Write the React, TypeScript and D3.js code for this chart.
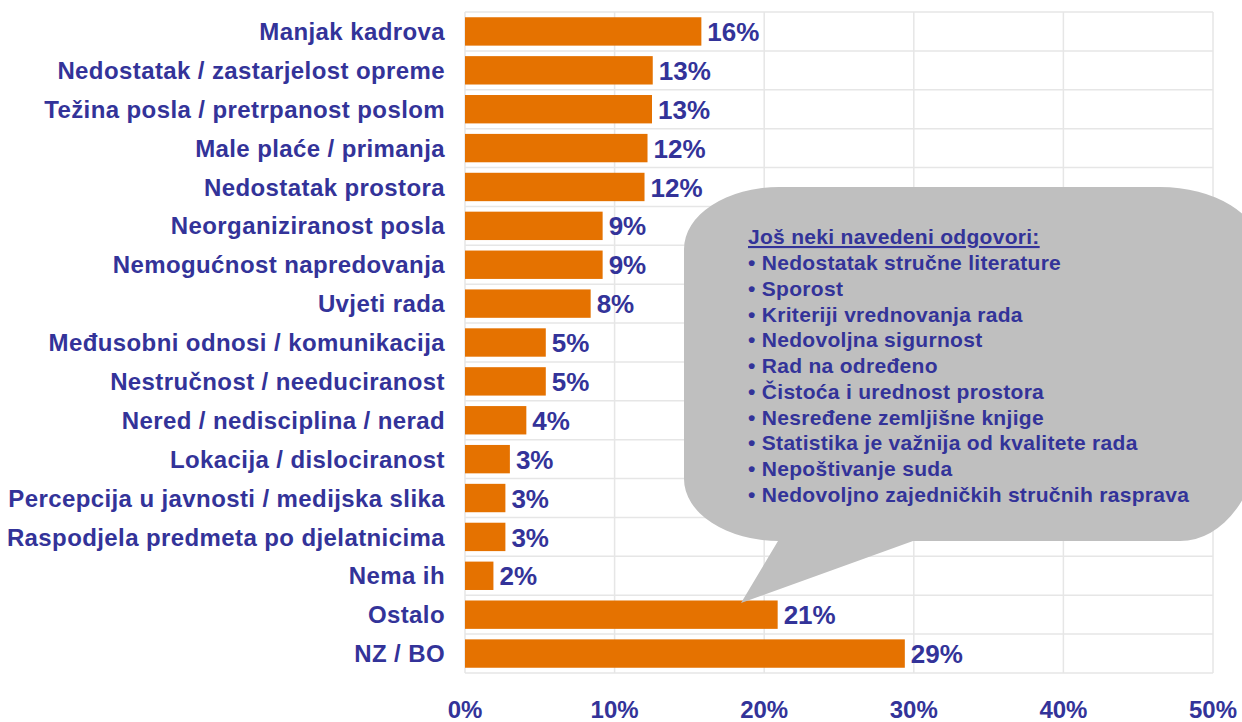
import * as d3 from 'd3';
import React from 'react';

const categories = [
	"Manjak kadrova",
	"Nedostatak / zastarjelost opreme",
	"Težina posla / pretrpanost poslom",
	"Male plaće / primanja",
	"Nedostatak prostora",
	"Neorganiziranost posla",
	"Nemogućnost napredovanja",
	"Uvjeti rada ",
	"Međusobni odnosi / komunikacija",
	"Nestručnost / needuciranost",
	"Nered / nedisciplina / nerad",
	"Lokacija / dislociranost",
	"Percepcija u javnosti / medijska slika",
	"Raspodjela predmeta po djelatnicima",
	"Nema ih",
	"Ostalo",
	"NZ / BO",
];

// shares
const values = [0.158, 0.1255, 0.125, 0.122, 0.12, 0.092, 0.092, 0.084, 0.054, 0.054, 0.041, 0.03, 0.027, 0.027, 0.019, 0.209, 0.294];

const xTicks = [0, 0.1, 0.2, 0.3, 0.4, 0.5];

const calloutTitle = "Još neki navedeni odgovori:";
const calloutItems = [
	"Nedostatak stručne literature",
	"Sporost",
	"Kriteriji vrednovanja rada",
	"Nedovoljna sigurnost",
	"Rad na određeno",
	"Čistoća i urednost prostora",
	"Nesređene zemljišne knjige",
	"Statistika je važnija od kvalitete rada",
	"Nepoštivanje suda",
	"Nedovoljno zajedničkih stručnih rasprava",
];

const W = 1242;
const H = 722;
const FONT = "'Liberation Sans', Arial, sans-serif";
const TEXT = "#333399";
const BAR = "#E57200";
const GRID = "#E6E6E6";

const margin = { top: 12, right: 29, bottom: 49, left: 465 };

export default function App() {
	const x = d3.scaleLinear()
		.domain([0, 0.5])
		.range([margin.left, W - margin.right]);

	const y = d3.scaleBand<string>()
		.domain(categories)
		.range([margin.top, H - margin.bottom])
		.paddingInner(0.27)
		.paddingOuter(0.135);

	const step = y.step();
	const rowLines = d3.range(categories.length + 1).map(i => margin.top + i * step);
	const fmt = d3.format(".0%");

	// speech bubble with a tail pointing at "Ostalo"
	const bx0 = 684, by0 = 187, bx1 = 1260, by1 = 541;
	const rx = 95, ry = 62;      // left corners, top-right
	const brx = 80, bry = 110;   // bottom-right corner
	const bubbleD = [
		`M${bx0 + rx},${by0}`,
		`L${bx1 - 100},${by0}`,
		`A100,${ry} 0 0 1 ${bx1},${by0 + ry}`,
		`L${bx1},${by1 - bry}`,
		`A${brx},${bry} 0 0 1 ${bx1 - brx},${by1}`,
		`L913,${by1}`,
		`L741,603`,
		`L778,${by1}`,
		`L${bx0 + rx},${by1}`,
		`A${rx},${ry} 0 0 1 ${bx0},${by1 - ry}`,
		`L${bx0},${by0 + ry}`,
		`A${rx},${ry} 0 0 1 ${bx0 + rx},${by0}`,
		"Z",
	].join(" ");

	return (
		<svg width={W} height={H} style={{ position: "absolute", left: 0, top: 0, background: "#fff" }}>
			<g>
				{xTicks.map(t => (
					<line key={"v" + t} x1={x(t)} x2={x(t)} y1={margin.top} y2={H - margin.bottom}
						stroke={GRID} strokeWidth={1.5} />
				))}
				{rowLines.map((yy, i) => (
					<line key={"h" + i} x1={x(0)} x2={x(0.5)} y1={yy} y2={yy}
						stroke={GRID} strokeWidth={1.5} />
				))}
			</g>
			<g>
				{categories.map((c, i) => (
					<g key={c}>
						<rect x={x(0)} y={y(c)} width={x(values[i]) - x(0)} height={y.bandwidth()} fill={BAR} />
						<text x={445} y={(y(c) as number) + y.bandwidth() / 2} dy="0.36em" textAnchor="end"
							fontFamily={FONT} fontWeight="bold" fontSize={24} letterSpacing={0.4} fill={TEXT}>{c}</text>
						<text x={x(values[i]) + 6} y={(y(c) as number) + y.bandwidth() / 2} dy="0.37em"
							fontFamily={FONT} fontWeight="bold" fontSize={26} fill={TEXT}>{fmt(Math.round(values[i] * 100) / 100)}</text>
					</g>
				))}
			</g>
			<g>
				{xTicks.map(t => (
					<text key={"t" + t} x={x(t)} y={718} textAnchor="middle"
						fontFamily={FONT} fontWeight="bold" fontSize={24} fill={TEXT}>{fmt(t)}</text>
				))}
			</g>
			<path d={bubbleD} fill="#BFBFBF" />
			<g fontFamily={FONT} fontWeight="bold" fontSize={21} letterSpacing={0.3} fill={TEXT}>
				<text x={748} y={244} textDecoration="underline">{calloutTitle}</text>
				{calloutItems.map((s, i) => (
					<text key={s} x={748} y={270 + i * 25.75}>{"• " + s}</text>
				))}
			</g>
		</svg>
	);
}
